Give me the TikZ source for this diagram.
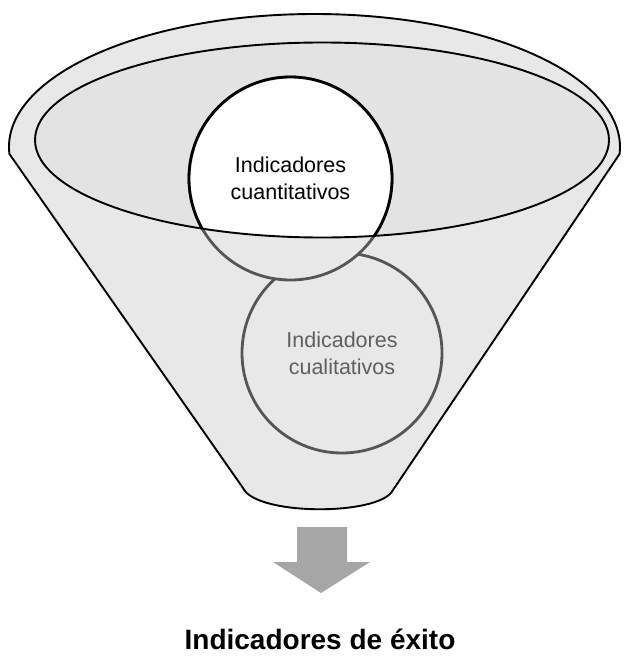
\documentclass[tikz,border=0pt]{standalone}
\usepackage{fontspec}
\setmainfont{Liberation Sans}
\usetikzlibrary{shapes.geometric}
\definecolor{funnelfill}{HTML}{E8E8E8}
\definecolor{lipfill}{HTML}{E3E3E3}
\definecolor{ringgray}{HTML}{555555}
\definecolor{textgray}{HTML}{5F5F5F}
\definecolor{arrowgray}{HTML}{A6A6A6}
\tikzset{
  outline/.style={draw=black, line width=1.9pt},
  ring/.style={draw=ringgray, line width=2.8pt},
  circtext/.style={align=center, font=\fontsize{21.5}{27}\selectfont},
}
\begin{document}
\begin{tikzpicture}[x=1pt,y=-1pt]
\useasboundingbox (0,0) rectangle (624,661);
% funnel body
\path[outline, fill=funnelfill]
  (314.5,147) ++(183:305.5pt and 133pt)
  arc[start angle=183, end angle=-3, x radius=305.5pt, y radius=133pt]
  -- (393,490)
  .. controls (380,516) and (256,516) .. (243,488) -- cycle;
% inner lip
\path[fill=lipfill] (322,140) ellipse[x radius=287pt, y radius=97.5pt];
% circles
\node (qual) [circle, ring, minimum size=200pt, inner sep=0pt] at (342,353) {};
\node (quant) [circle, ring, fill=funnelfill, minimum size=203pt, inner sep=0pt] at (290.5,178.5) {};
\begin{scope}
  \clip (322,140) ellipse[x radius=287pt, y radius=97.5pt];
  \node [circle, draw=black, line width=2.8pt, fill=white, minimum size=203pt, inner sep=0pt] at (290.5,178.5) {};
\end{scope}
\node (lip) [outline, ellipse, minimum width=574pt, minimum height=195pt, inner sep=0pt] at (322,140) {};
\node[circtext, text=black] at (quant) {Indicadores\\cuantitativos};
\node[circtext, text=textgray] at (qual) {Indicadores\\cualitativos};
% arrow
\path[fill=arrowgray] (297,527) -- (347,527) -- (347,562) -- (370,562) -- (321,593) -- (273,562) -- (297,562) -- cycle;
\node (title) [font=\fontsize{28}{32}\selectfont\bfseries] at (320,639) {Indicadores de éxito};
\end{tikzpicture}
\end{document}
